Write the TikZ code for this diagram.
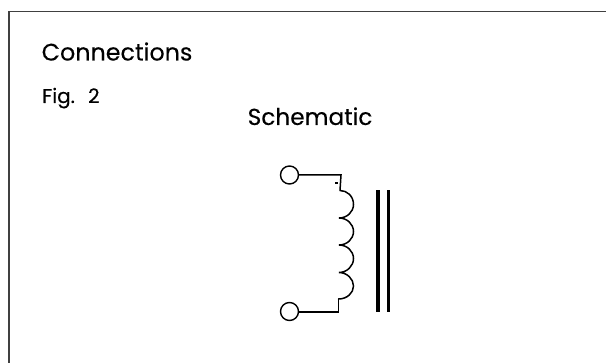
\documentclass[tikz,border=0pt]{standalone}
\usepackage{fontspec}
\setmainfont{Poppins}[FakeBold=0.25]
\tikzset{
  wire/.style={line width=1.5pt,black},
  frameline/.style={line width=1.6pt,black!75},
  terminal/.style={circle,draw=black,line width=1.4pt,fill=white,minimum size=18pt,inner sep=0pt},
  label/.style={anchor=base west,inner sep=0pt,text=black},
  corebar/.style={fill=black,draw=none}
}
\begin{document}
\begin{tikzpicture}[x=1pt,y=-1pt]
\useasboundingbox (0,0) rectangle (606,363);
\coordinate (fa) at (9,363);
\coordinate (fb) at (9,11.5);
\coordinate (fc) at (606,11.5);
\draw[frameline] (fa) -- (fb) -- (fc);
\node[label,font=\fontsize{23.8}{26}\selectfont] (title) at (41.5,60.5) {Connections};
\node[label,font=\fontsize{20}{22}\selectfont] (fig) at (42,103) {Fig.\ \ \kern2.5pt 2};
\node[label,font=\fontsize{23.2}{26}\selectfont] (schem) at (247.5,125) {Schematic};
\node[terminal] (t1) at (289.5,175) {};
\node[terminal] (t2) at (289.5,311.5) {};
\coordinate (c1) at (341,175);
\coordinate (c2) at (340,190.5);
\coordinate (c3) at (338.5,299);
\coordinate (c4) at (338.5,312);
\draw[wire] (t1.east) -- (c1) -- (c2);
\draw[wire,line cap=round] (c2)
  .. controls (347,190.5) and (353.5,196) .. (353.5,204.5)
  .. controls (353.5,212) and (347,218) .. (339,218)
  .. controls (347,218) and (353.5,224) .. (353.5,231.5)
  .. controls (353.5,239) and (347,245) .. (339,245)
  .. controls (347,245) and (353.5,251) .. (353.5,258.5)
  .. controls (353.5,266) and (347,272.5) .. (339,272.5)
  .. controls (347,272.5) and (353.5,279) .. (353.5,286)
  .. controls (353.5,293) and (347,299) .. (c3);
\draw[wire] (c3) -- (c4) -- (t2.east |- c4);
\fill[black] (335.3,182) rectangle (338.3,184);
\fill[corebar] (376,190) rectangle (380,312.5);
\fill[corebar] (387,190) rectangle (390,312.5);
\end{tikzpicture}
\end{document}
